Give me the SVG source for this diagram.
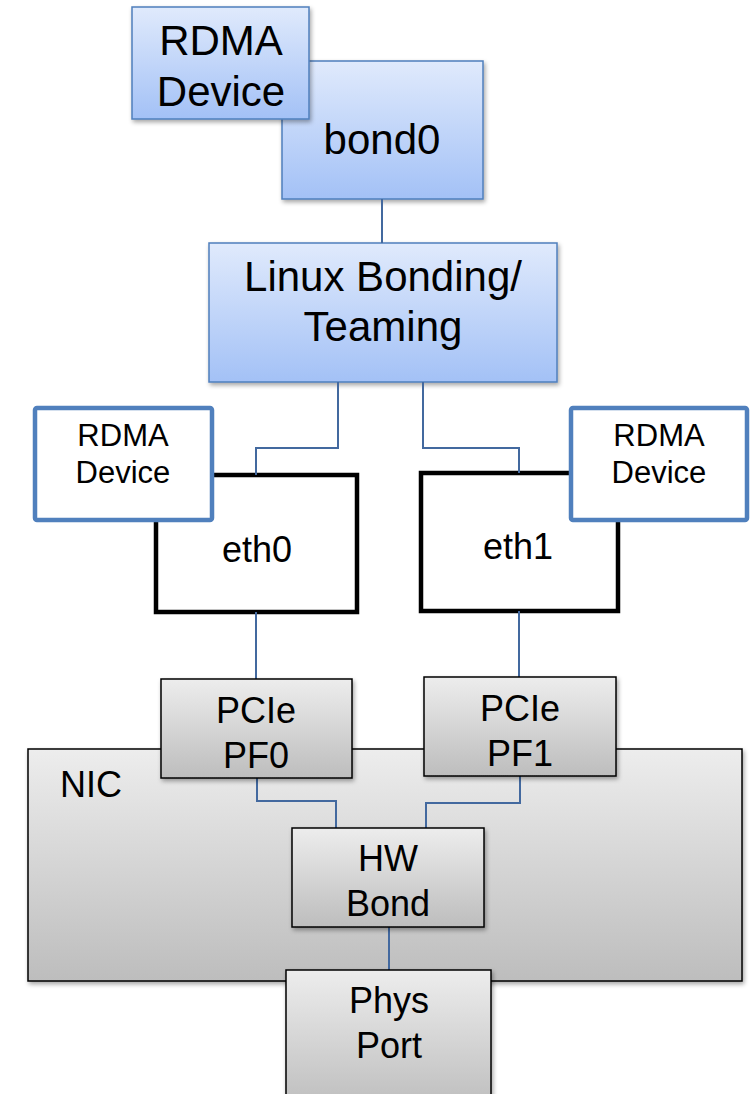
<svg xmlns="http://www.w3.org/2000/svg" width="756" height="1094" viewBox="0 0 756 1094">
  <defs>
    <linearGradient id="blueFill" x1="0" y1="0" x2="0" y2="1">
      <stop offset="0" stop-color="#e0eafc"/>
      <stop offset="1" stop-color="#a3c1f6"/>
    </linearGradient>
    <linearGradient id="grayFill" x1="0" y1="0" x2="0" y2="1">
      <stop offset="0" stop-color="#ededed"/>
      <stop offset="1" stop-color="#bdbdbd"/>
    </linearGradient>
    <filter id="shadow" x="-10%" y="-10%" width="130%" height="130%">
      <feDropShadow dx="1.5" dy="2.5" stdDeviation="2" flood-color="#000" flood-opacity="0.35"/>
    </filter>
  </defs>
  <style>
    .blue { fill: url(#blueFill); stroke: #4f7fbc; stroke-width: 1.5; filter: url(#shadow); }
    .gray { fill: url(#grayFill); stroke: #000; stroke-width: 1.5; filter: url(#shadow); }
    .rdma { fill: #fff; stroke: #5080bd; stroke-width: 4.5; }
    .eth { fill: #fff; stroke: #000; stroke-width: 4.5; }
    .wire { fill: none; stroke: #43699f; stroke-width: 2; }
    text { font-family: "Liberation Sans", Arial, sans-serif; fill: #000; text-anchor: middle; }
    .big { font-size: 42px; }
    .mid { font-size: 36px; }
    .small { font-size: 31px; }
  </style>

  <!-- kernel side -->
  <g id="bond0">
    <rect class="blue" x="282" y="61" width="201" height="138"/>
    <text class="big" x="382" y="154">bond0</text>
  </g>
  <g id="rdma-top">
    <rect class="blue" x="132" y="7" width="177" height="112"/>
    <text class="big" x="221" y="55">RDMA</text>
    <text class="big" x="221" y="106">Device</text>
  </g>
  <g id="linux-bonding">
    <rect class="blue" x="209" y="243" width="348" height="139"/>
    <text class="big" x="383" y="291">Linux Bonding/</text>
    <text class="big" x="383" y="341">Teaming</text>
  </g>
  <g id="eth0">
    <rect class="eth" x="156" y="475" width="201" height="137"/>
    <text class="mid" x="257" y="562">eth0</text>
  </g>
  <g id="rdma-left">
    <rect class="rdma" x="35" y="408" width="177" height="112" rx="2"/>
    <text class="small" x="123" y="446">RDMA</text>
    <text class="small" x="123" y="483">Device</text>
  </g>
  <g id="eth1">
    <rect class="eth" x="421" y="473" width="197" height="138"/>
    <text class="mid" x="518" y="559">eth1</text>
  </g>
  <g id="rdma-right">
    <rect class="rdma" x="571" y="408" width="176" height="112" rx="2"/>
    <text class="small" x="659" y="446">RDMA</text>
    <text class="small" x="659" y="483">Device</text>
  </g>

  <!-- hardware side -->
  <g id="nic">
    <rect class="gray" x="28" y="749" width="714" height="232"/>
    <text class="mid" x="91" y="797">NIC</text>
  </g>

  <g id="connectors">
    <path class="wire" d="M382 199 V243"/>
    <path class="wire" d="M338 382 V448 H256 V475"/>
    <path class="wire" d="M423 382 V448 H519 V473"/>
    <path class="wire" d="M256 612 V679"/>
    <path class="wire" d="M519 611 V677"/>
    <path class="wire" d="M257 778 V801 H336 V828"/>
    <path class="wire" d="M520 776 V803 H426 V828"/>
    <path class="wire" d="M389 927 V970"/>
  </g>

  <g id="pcie-pf0">
    <rect class="gray" x="161" y="679" width="191" height="99"/>
    <text class="mid" x="256" y="723">PCIe</text>
    <text class="mid" x="256" y="768">PF0</text>
  </g>
  <g id="pcie-pf1">
    <rect class="gray" x="424" y="677" width="192" height="99"/>
    <text class="mid" x="520" y="721">PCIe</text>
    <text class="mid" x="520" y="766">PF1</text>
  </g>
  <g id="hw-bond">
    <rect class="gray" x="292" y="828" width="192" height="99"/>
    <text class="mid" x="388" y="871">HW</text>
    <text class="mid" x="388" y="916">Bond</text>
  </g>
  <g id="phys-port">
    <rect class="gray" x="286" y="970" width="205" height="140"/>
    <text class="mid" x="389" y="1013">Phys</text>
    <text class="mid" x="389" y="1058">Port</text>
  </g>
</svg>
